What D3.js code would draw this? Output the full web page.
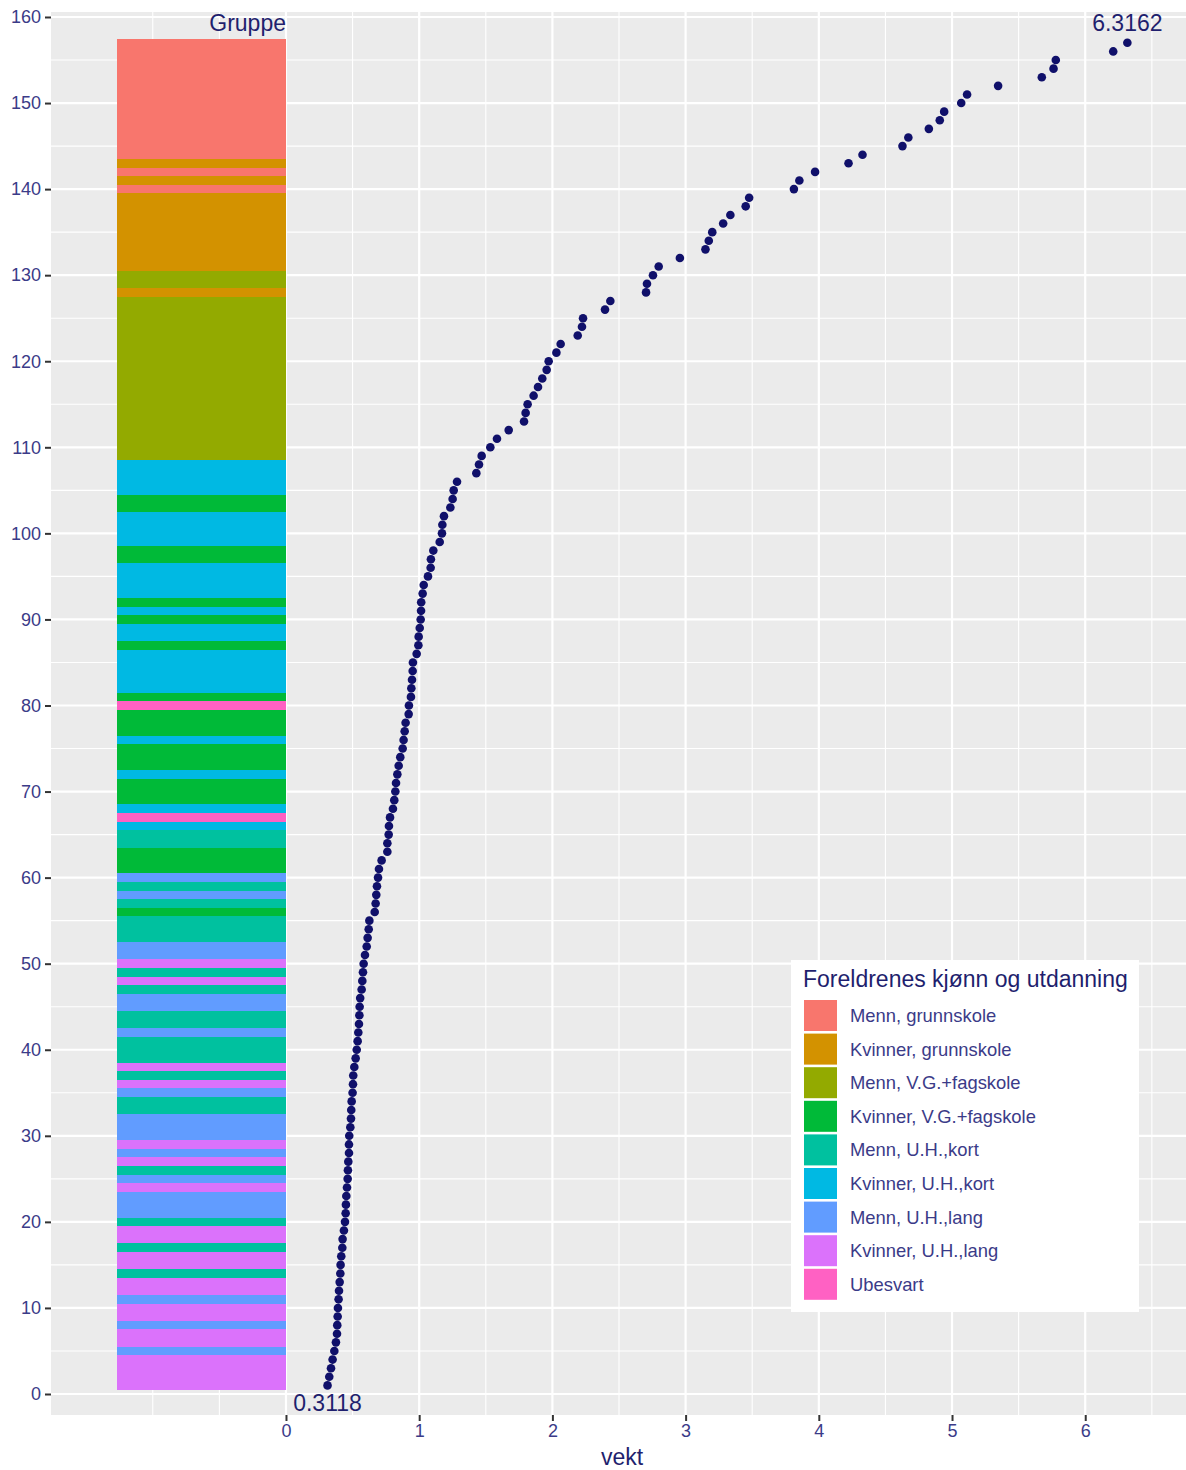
<!DOCTYPE html>
<html>
<head>
<meta charset="utf-8">
<script src="https://cdn.jsdelivr.net/npm/d3@7"></script>
<style>
body { margin: 0; background: #ffffff; }
text { font-family: "Liberation Sans", Arial, sans-serif; }
</style>
</head>
<body>
<div id="d3js_Plot"></div>
<script>
// Legend groups and their ggplot colours
var groupNames = ["Menn, grunnskole", "Kvinner, grunnskole", "Menn, V.G.+fagskole",
                  "Kvinner, V.G.+fagskole", "Menn, U.H.,kort", "Kvinner, U.H.,kort",
                  "Menn, U.H.,lang", "Kvinner, U.H.,lang", "Ubesvart"];
var groupColors = ["#F8766D", "#D39200", "#93AA00", "#00BA38", "#00C19F",
                   "#00B9E3", "#619CFF", "#DB72FB", "#FF61C3"];

// Group of each row in the bar, as runs from the bottom row upwards
var runGroup  = [7,6,7,6,7,6,7,4,7,4,7,4,6,7,6,4,7,6,7,6,4,6,7,4,7,4,6,4,6,4,7,4,7,6,4,3,4,6,4,6,
                 3,4,5,8,5,3,5,3,5,3,8,3,5,3,5,3,5,3,5,3,5,3,5,2,1,2,1,0,1,0,1,0];
var runLength = [4,1,2,1,2,1,2,1,2,1,2,1,3,1,1,1,1,1,1,3,2,1,1,1,1,3,1,2,2,1,1,1,1,2,3,1,1,1,1,1,
                 3,2,1,1,1,3,1,3,1,3,1,1,5,1,2,1,1,1,4,2,4,2,4,19,1,2,9,1,1,1,1,14];

// Sorted weights, one per rank (rank 1 at the bottom)
var vekt = [0.3118,0.325,0.338,0.350,0.363,0.375,0.383,0.385,0.388,0.390,
            0.395,0.398,0.403,0.408,0.410,0.415,0.423,0.425,0.435,0.443,
            0.448,0.450,0.453,0.458,0.463,0.465,0.468,0.473,0.473,0.475,
            0.483,0.488,0.490,0.493,0.500,0.503,0.505,0.513,0.523,0.531,
            0.538,0.543,0.548,0.551,0.553,0.557,0.568,0.573,0.578,0.583,
            0.593,0.606,0.613,0.621,0.626,0.666,0.673,0.678,0.683,0.691,
            0.698,0.718,0.761,0.761,0.771,0.773,0.781,0.803,0.813,0.821,
            0.826,0.836,0.846,0.858,0.876,0.883,0.891,0.898,0.921,0.923,
            0.938,0.941,0.946,0.951,0.953,0.981,0.994,0.996,1.004,1.011,
            1.014,1.015,1.026,1.034,1.066,1.086,1.088,1.106,1.154,1.171,
            1.174,1.186,1.234,1.251,1.259,1.284,1.429,1.449,1.469,1.534,
            1.584,1.672,1.787,1.799,1.814,1.859,1.892,1.924,1.957,1.972,
            2.030,2.062,2.190,2.222,2.230,2.395,2.435,2.703,2.710,2.755,
            2.798,2.957,3.149,3.174,3.200,3.282,3.336,3.451,3.477,3.813,
            3.854,3.972,4.223,4.328,4.628,4.672,4.826,4.908,4.941,5.069,
            5.113,5.346,5.674,5.762,5.779,6.210,6.3162];

var xTicks = [0, 1, 2, 3, 4, 5, 6];
var yTicks = [0, 10, 20, 30, 40, 50, 60, 70, 80, 90, 100, 110, 120, 130, 140, 150, 160];
var minLabel = "0.3118";
var maxLabel = "6.3162";

// Expand runs to one group per row
var rows = [];
runGroup.forEach(function(g, i) {
    for (var k = 0; k < runLength[i]; k++) rows.push(g);
});

var width = 1186, height = 1470;
var panel = {left: 51, right: 1193, top: 12, bottom: 1415};
var barLeft = -1.27;
var navy = "#1f1f6e", tickCol = "#3b3b88";

var svg = d3.select("#d3js_Plot").append("svg")
    .attr("width", width)
    .attr("height", height);

var x = d3.scaleLinear().domain([-1.764, 6.809]).range([panel.left, panel.right]);
var y = d3.scaleLinear().domain([-2.44, 160.58]).range([panel.bottom, panel.top]);

svg.append("defs").append("clipPath").attr("id", "clip")
    .append("rect")
    .attr("x", panel.left).attr("y", panel.top)
    .attr("width", panel.right - panel.left).attr("height", panel.bottom - panel.top);

var plot = svg.append("g").attr("clip-path", "url(#clip)");

// Grey panel
plot.append("rect")
    .attr("x", panel.left).attr("y", panel.top)
    .attr("width", panel.right - panel.left).attr("height", panel.bottom - panel.top)
    .attr("fill", "#EBEBEB");

// Minor grid lines
var xMinor = d3.range(-1, 7, 0.5).filter(function(d) { return xTicks.indexOf(d) < 0; });
var yMinor = d3.range(5, 161, 10);
plot.selectAll(".xminor").data(xMinor).enter().append("line")
    .attr("x1", function(d) { return x(d); }).attr("x2", function(d) { return x(d); })
    .attr("y1", panel.top).attr("y2", panel.bottom)
    .attr("stroke", "#ffffff").attr("stroke-width", 1.1);
plot.selectAll(".yminor").data(yMinor).enter().append("line")
    .attr("y1", function(d) { return y(d); }).attr("y2", function(d) { return y(d); })
    .attr("x1", panel.left).attr("x2", panel.right)
    .attr("stroke", "#ffffff").attr("stroke-width", 1.1);

// Major grid lines
plot.selectAll(".xmajor").data(xTicks).enter().append("line")
    .attr("x1", function(d) { return x(d); }).attr("x2", function(d) { return x(d); })
    .attr("y1", panel.top).attr("y2", panel.bottom)
    .attr("stroke", "#ffffff").attr("stroke-width", 2.2);
plot.selectAll(".ymajor").data(yTicks).enter().append("line")
    .attr("y1", function(d) { return y(d); }).attr("y2", function(d) { return y(d); })
    .attr("x1", panel.left).attr("x2", panel.right)
    .attr("stroke", "#ffffff").attr("stroke-width", 2.2);

// Group bar, one tile per rank
plot.selectAll(".tile").data(rows).enter().append("rect")
    .attr("x", x(barLeft))
    .attr("width", x(0) - x(barLeft))
    .attr("y", function(d, i) { return y(i + 1.5); })
    .attr("height", function(d, i) { return y(i + 0.5) - y(i + 1.5); })
    .attr("fill", function(d) { return groupColors[d]; })
    .attr("shape-rendering", "crispEdges");

// Weights
plot.selectAll(".dot").data(vekt).enter().append("circle")
    .attr("cx", function(d) { return x(d); })
    .attr("cy", function(d, i) { return y(i + 1); })
    .attr("r", 4.3)
    .attr("fill", "#10106a");

// Annotations
plot.append("text").attr("x", x(0)).attr("y", y(159.3) + 8)
    .attr("text-anchor", "end").attr("font-size", 23).attr("fill", navy)
    .text("Gruppe");
plot.append("text").attr("x", x(vekt[vekt.length - 1])).attr("y", y(159.3) + 8)
    .attr("text-anchor", "middle").attr("font-size", 23).attr("fill", navy)
    .text(maxLabel);
plot.append("text").attr("x", x(vekt[0])).attr("y", y(-1.05) + 8)
    .attr("text-anchor", "middle").attr("font-size", 23).attr("fill", navy)
    .text(minLabel);

// y axis
var yAxis = svg.append("g").attr("transform", "translate(" + panel.left + ",0)")
    .call(d3.axisLeft(y).tickValues(yTicks).tickSize(6).tickPadding(4));
yAxis.select(".domain").remove();
yAxis.selectAll(".tick line").attr("stroke", "#333333").attr("stroke-width", 2);
yAxis.selectAll(".tick text").attr("font-size", 18).attr("fill", tickCol)
    .attr("font-family", "Liberation Sans, Arial, sans-serif");

// x axis
var xAxis = svg.append("g").attr("transform", "translate(0," + panel.bottom + ")")
    .call(d3.axisBottom(x).tickValues(xTicks).tickSize(6).tickPadding(3));
xAxis.select(".domain").remove();
xAxis.selectAll(".tick line").attr("stroke", "#333333").attr("stroke-width", 2);
xAxis.selectAll(".tick text").attr("font-size", 18).attr("fill", tickCol)
    .attr("font-family", "Liberation Sans, Arial, sans-serif");

svg.append("text")
    .attr("x", (panel.left + panel.right) / 2).attr("y", 1465)
    .attr("text-anchor", "middle").attr("font-size", 23).attr("fill", navy)
    .text("vekt");

// Legend
var legend = svg.append("g").attr("transform", "translate(791,960)");
legend.append("rect").attr("width", 348).attr("height", 352).attr("fill", "#ffffff");
legend.append("text").attr("x", 12).attr("y", 27)
    .attr("font-size", 23).attr("fill", navy)
    .text("Foreldrenes kjønn og utdanning");
var item = legend.selectAll(".item").data(groupNames).enter().append("g")
    .attr("transform", function(d, i) { return "translate(13," + (40 + i * 33.6) + ")"; });
item.append("rect").attr("width", 33).attr("height", 31)
    .attr("fill", function(d, i) { return groupColors[i]; });
item.append("text").attr("x", 46).attr("y", 22)
    .attr("font-size", 18.4).attr("fill", tickCol)
    .text(function(d) { return d; });
</script>
</body>
</html>
